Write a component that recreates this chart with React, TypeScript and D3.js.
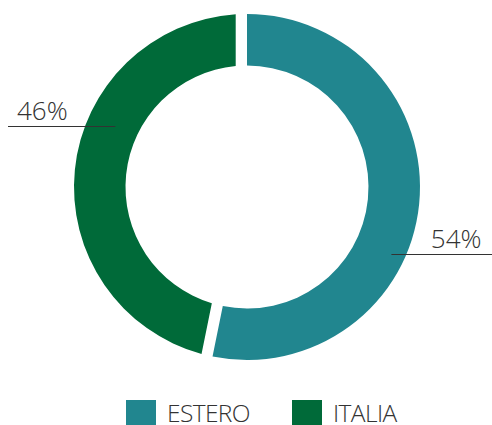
import React from "react";
import * as d3 from "d3";

const categories = ["ESTERO", "ITALIA"];
const values = [54, 46];
const labels = ["54%", "46%"];
const colors = ["#21868f", "#006a39"];

const W = 492;
const H = 425;
const CX = 247;
const CY = 187;
const R_OUT = 173;
const R_IN = 121.5;
const LABEL_R = [159, 145];
const FONT = "'Open Sans', 'Noto Sans', sans-serif";

export default function App() {
  const pie = d3
    .pie<number>()
    .sort(null)
    .startAngle(0)
    .endAngle(2 * Math.PI)
    .padAngle(0.047);
  const arcs = pie(values);

  // first slice is a plain sector, second one is inset with a parallel gap
  const plainArc = d3.arc<any>().innerRadius(R_IN).outerRadius(R_OUT);
  const paddedArc = d3
    .arc<any>()
    .innerRadius(R_IN)
    .outerRadius(R_OUT)
    .padRadius(R_OUT)
    .padAngle(2 * Math.asin(11.3 / R_OUT));

  const spans = arcs.map((a, i) =>
    i === 0
      ? { startAngle: a.startAngle, endAngle: a.endAngle - a.padAngle }
      : { startAngle: a.startAngle - a.padAngle, endAngle: a.endAngle }
  );
  const slices = spans.map((s, i) => ((i === 0 ? plainArc(s) : paddedArc(s)) as string));

  const labelOffset = (19 * Math.PI) / 180;
  const anchors = spans.map((s, i) => {
    const mid = (s.startAngle + s.endAngle) / 2 + labelOffset;
    return [CX + LABEL_R[i] * Math.sin(mid), CY - LABEL_R[i] * Math.cos(mid)];
  });

  const legendX = d3.scaleLinear().domain([0, 1]).range([126, 292]);

  return (
    <svg
      width={W}
      height={H}
      style={{ position: "absolute", left: 0, top: 0, background: "#fff" }}
    >
      {slices.map((d, i) => (
        <path key={categories[i]} d={d} fill={colors[i]} transform={`translate(${CX},${CY})`} />
      ))}
      {anchors.map(([x, y], i) => {
        const right = x > CX;
        const x2 = right ? W : 8;
        const ly = Math.round(y) + 0.5;
        return (
          <g key={"lab" + i}>
            <line x1={x} x2={x2} y1={ly} y2={ly} stroke="#333" strokeWidth={1} />
            <text
              x={right ? W - 10.5 : 17}
              y={ly - 6.5}
              textAnchor={right ? "end" : "start"}
              fontFamily={FONT}
              fontWeight={300}
              fontSize={26}
              fill="#333"
            >
              {labels[i]}
            </text>
          </g>
        );
      })}
      {categories.map((c, i) => (
        <g key={"leg" + c} transform={`translate(${legendX(i)},400)`}>
          <rect x={0} y={0} width={30} height={30} fill={colors[i]} />
          <text
            x={41}
            y={21.7}
            fontFamily={FONT}
            fontWeight={300}
            fontSize={24.5}
            letterSpacing={-0.6}
            fill="#333"
          >
            {c}
          </text>
        </g>
      ))}
    </svg>
  );
}
